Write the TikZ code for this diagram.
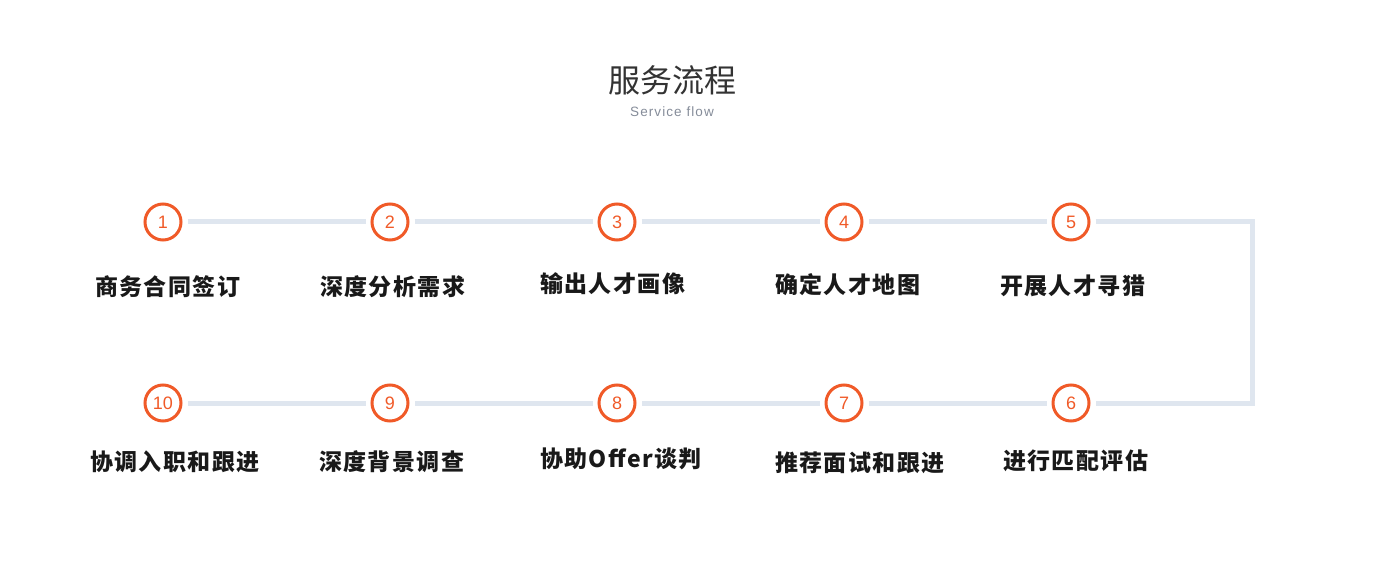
\documentclass[tikz,border=0pt]{standalone}
\usepackage{fontspec}
\newfontfamily\cjk{Noto Sans CJK SC}
\newfontfamily\cjklab{Noto Sans CJK SC}[LetterSpace=6]
\newfontfamily\numf{Liberation Sans}
\newfontfamily\subf{Liberation Sans}[LetterSpace=8]
\definecolor{accent}{HTML}{F05A28}
\definecolor{track}{HTML}{DFE6EF}
\definecolor{titlec}{HTML}{333333}
\definecolor{subc}{HTML}{858C99}
\begin{document}
\begin{tikzpicture}[x=1pt,y=-1pt,
  stepcircle/.style={circle,draw=accent,line width=3pt,minimum size=36pt,inner sep=0pt,
    text=accent,font=\numf\fontsize{18}{18}\selectfont},
  steplabel/.style={anchor=west,inner sep=0pt,text=black!90,font=\cjklab\bfseries\fontsize{23}{23}\selectfont},
  link/.style={draw=track,line width=5pt,shorten <=5pt,shorten >=5pt}]
\useasboundingbox (0,0) rectangle (1384,577);
\node[font=\cjk\fontsize{32}{32}\selectfont,text=titlec] (title) at (672,80) {服务流程};
\node[font=\subf\fontsize{13.5}{13.5}\selectfont,text=subc] (sub) at (672,112) {Service flow};
\foreach \i/\x in {1/163,2/390,3/617,4/844,5/1071}{
  \node[stepcircle] (c\i) at (\x,222) {\i};
}
\foreach \i/\x in {10/163,9/390,8/617,7/844,6/1071}{
  \node[stepcircle] (c\i) at (\x,403) {\i};
}
\draw[link] (c1) -- (c2);
\draw[link] (c2) -- (c3);
\draw[link] (c3) -- (c4);
\draw[link] (c4) -- (c5);
\draw[link] (c6) -- (c7);
\draw[link] (c7) -- (c8);
\draw[link] (c8) -- (c9);
\draw[link] (c9) -- (c10);
\coordinate (r1) at (1252,222);
\coordinate (r2) at (1252,403);
\draw[draw=track,line width=5pt,line join=miter,shorten <=5pt,shorten >=5pt] (c5.east) -- (r1) -- (r2) -- (c6.east);
\node[steplabel] (l1) at (95,287) {商务合同签订};
\node[steplabel] (l2) at (320,287) {深度分析需求};
\node[steplabel] (l3) at (540,284) {输出人才画像};
\node[steplabel] (l4) at (775,285) {确定人才地图};
\node[steplabel] (l5) at (1000,286) {开展人才寻猎};
\node[steplabel] (l10) at (90,462) {协调入职和跟进};
\node[steplabel] (l9) at (319,462) {深度背景调查};
\node[steplabel] (l8) at (540,459) {协助Offer谈判};
\node[steplabel] (l7) at (775,463) {推荐面试和跟进};
\node[steplabel] (l6) at (1003,461) {进行匹配评估};
\end{tikzpicture}
\end{document}
